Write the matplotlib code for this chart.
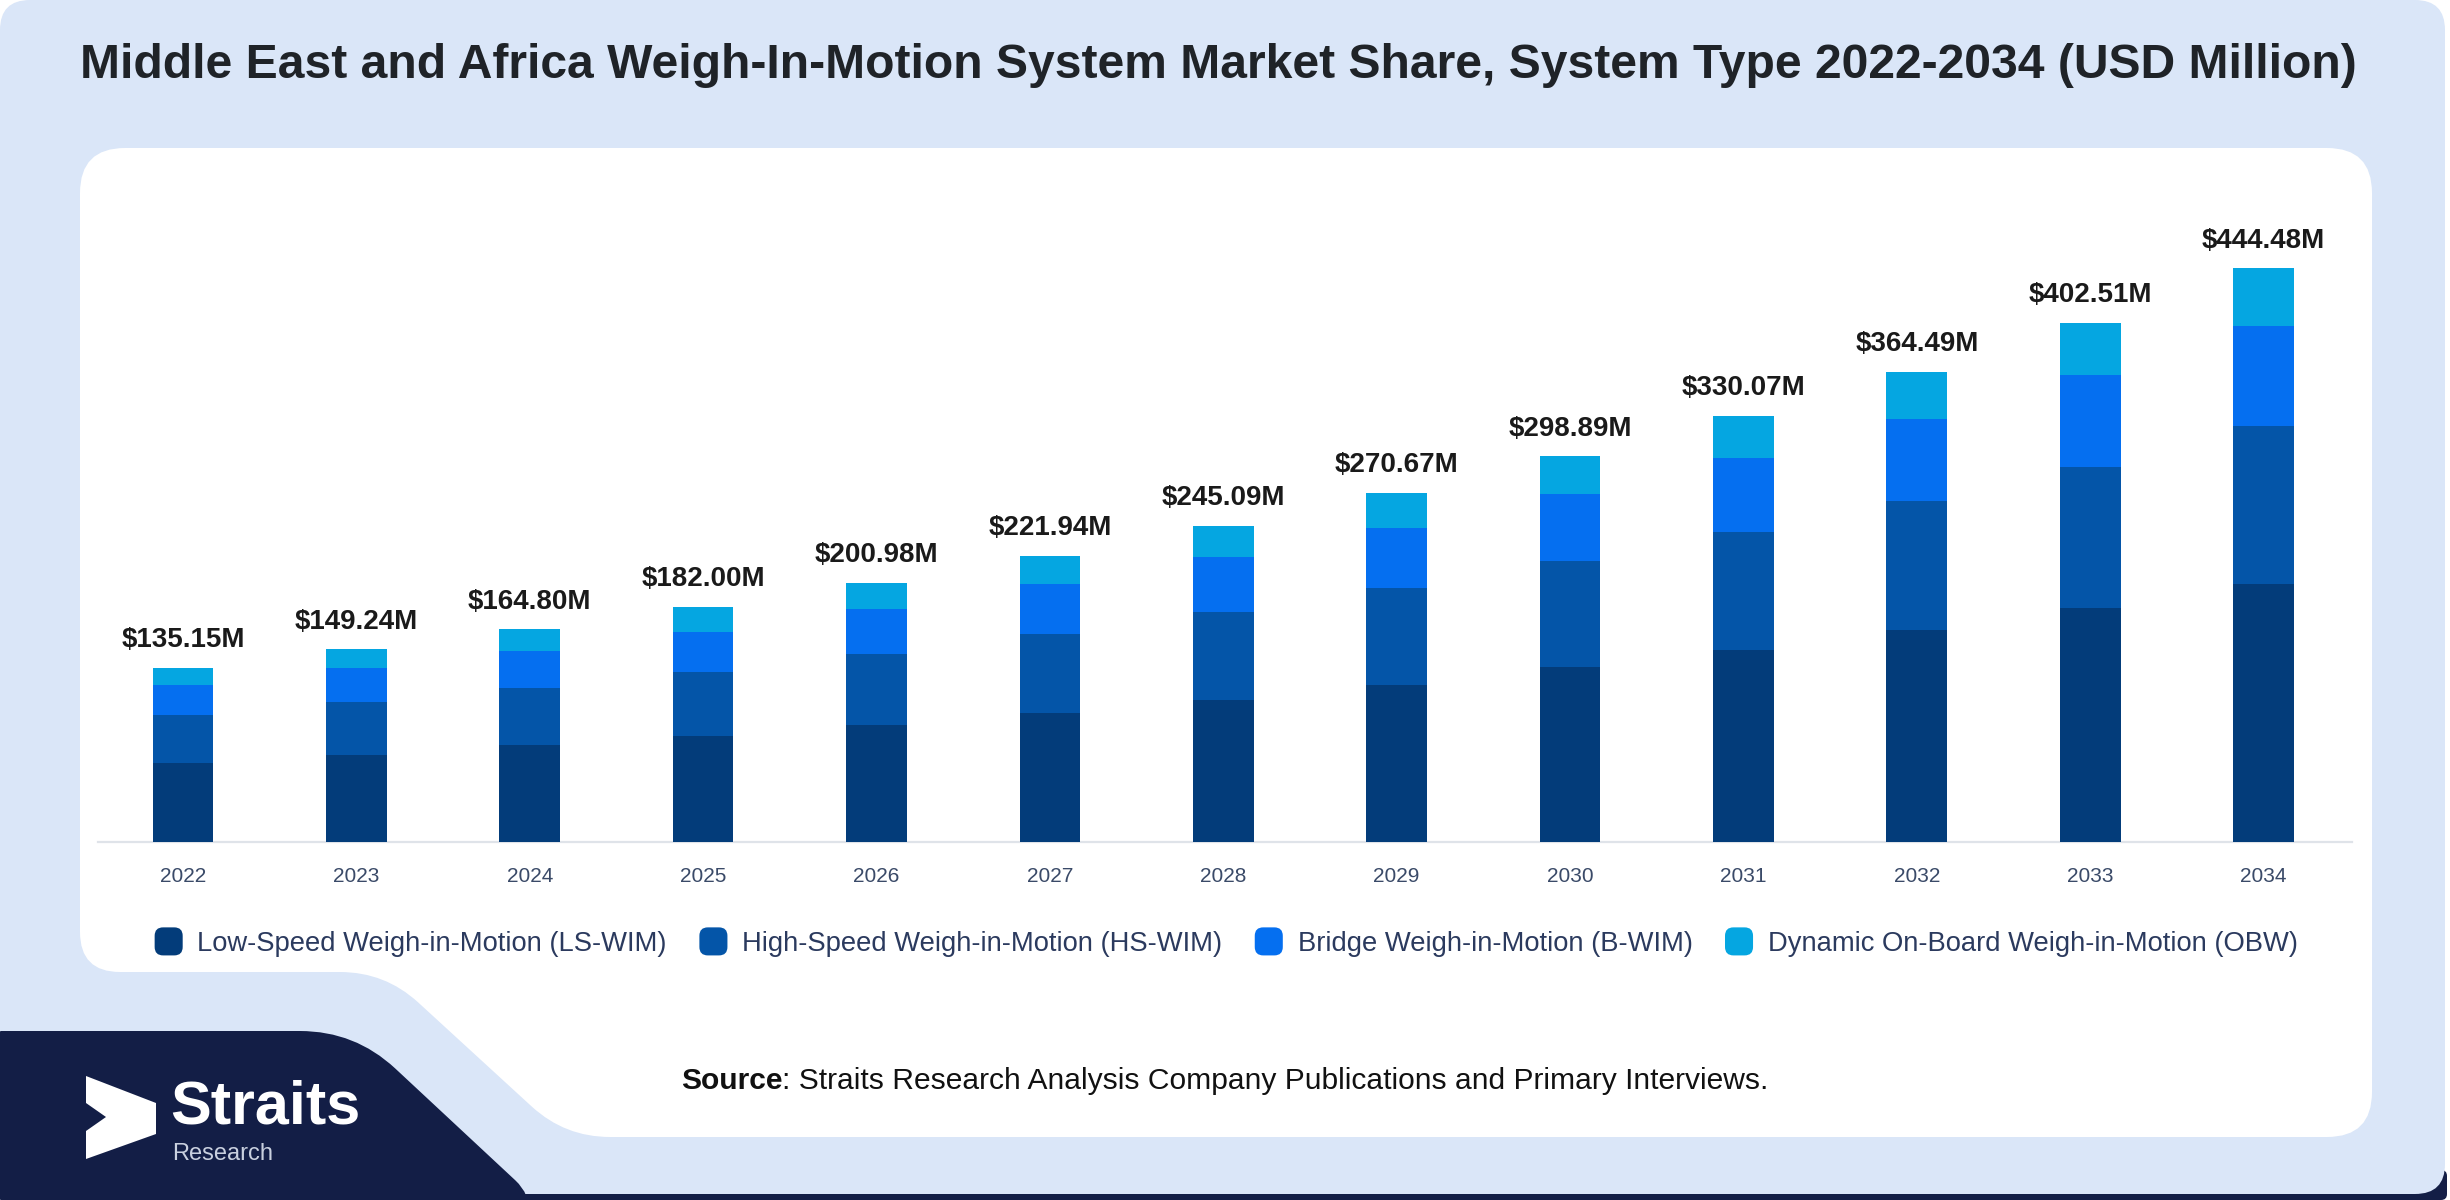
import numpy as np
import matplotlib
matplotlib.use("Agg")
import matplotlib.pyplot as plt
from matplotlib.path import Path
from matplotlib.patches import PathPatch, FancyBboxPatch, Polygon, Patch
from matplotlib.legend_handler import HandlerBase

plt.rcParams['font.family'] = ['Liberation Sans', 'DejaVu Sans']

# ---------------- data ----------------
years = ["2022", "2023", "2024", "2025", "2026", "2027", "2028",
         "2029", "2030", "2031", "2032", "2033", "2034"]
totals = [135.15, 149.24, 164.80, 182.00, 200.98, 221.94, 245.09,
          270.67, 298.89, 330.07, 364.49, 402.51, 444.48]
ls_wim = [61.5, 67.8, 74.8, 82.4, 90.9, 99.6, 110.4, 122.0, 135.3, 149.1, 164.4, 181.5, 200.2]
hs_wim = [36.7, 40.9, 44.6, 49.7, 55.0, 61.8, 67.5, 74.5, 82.1, 90.8, 100.1, 109.5, 122.1]
b_wim = [23.8, 25.9, 28.9, 30.9, 34.6, 38.5, 42.9, 47.0, 52.5, 58.0, 63.7, 71.0, 77.8]
obw = [13.2, 14.7, 16.5, 19.0, 20.4, 22.0, 24.3, 27.1, 29.0, 32.2, 36.4, 40.5, 44.4]
series_names = ["Low-Speed Weigh-in-Motion (LS-WIM)",
                "High-Speed Weigh-in-Motion (HS-WIM)",
                "Bridge Weigh-in-Motion (B-WIM)",
                "Dynamic On-Board Weigh-in-Motion (OBW)"]
colors = ["#033c7a", "#0455a8", "#056ff0", "#05a6e1"]

title = "Middle East and Africa Weigh-In-Motion System Market Share, System Type 2022-2034 (USD Million)"

W, H = 2450, 1200
fig = plt.figure(figsize=(W / 100, H / 100), dpi=100)
fig.patch.set_facecolor("white")

# background axes in pixel coordinates
bg = fig.add_axes([0, 0, 1, 1], zorder=0)
bg.set_xlim(0, W)
bg.set_ylim(H, 0)
bg.axis("off")

LIGHT = "#dae6f8"
NAVY = "#131e46"


def rounded_poly(pts, radii):
    pts = [np.array(p, float) for p in pts]
    n = len(pts)
    verts, codes = [], []
    for i in range(n):
        p0, p1, p2 = pts[i - 1], pts[i], pts[(i + 1) % n]
        r = radii[i]
        d0 = (p0 - p1) / np.linalg.norm(p0 - p1)
        d2 = (p2 - p1) / np.linalg.norm(p2 - p1)
        a = p1 + d0 * r
        b = p1 + d2 * r
        if i == 0:
            verts.append(a); codes.append(Path.MOVETO)
        else:
            verts.append(a); codes.append(Path.LINETO)
        verts.append(p1); codes.append(Path.CURVE3)
        verts.append(b); codes.append(Path.CURVE3)
    verts.append(verts[0]); codes.append(Path.CLOSEPOLY)
    return Path(verts, codes)


# bottom navy strip + light blue frame
bg.add_patch(FancyBboxPatch((0, 1170), W - 3, 30, boxstyle="round,pad=0,rounding_size=6",
                            fc=NAVY, ec="none"))
bg.add_patch(FancyBboxPatch((0, 0), W - 5, 1194, boxstyle="round,pad=0,rounding_size=30",
                            fc=LIGHT, ec="none"))

# navy logo block
navy_pts = [(0, 1031), (355, 1031), (530, 1194), (530, 1200), (0, 1200)]
bg.add_patch(PathPatch(rounded_poly(navy_pts, [1, 55, 20, 1, 1]), fc=NAVY, ec="none"))

# white card
card_pts = [(80, 148), (2372, 148), (2372, 1137), (565, 1137), (385, 972), (80, 972)]
bg.add_patch(PathPatch(rounded_poly(card_pts, [45, 45, 45, 45, 45, 40]), fc="white", ec="none"))

# logo arrow
arrow = [(86, 1076), (156, 1103), (156, 1134), (86, 1159), (86, 1131), (106, 1117), (86, 1103)]
bg.add_patch(Polygon(arrow, closed=True, fc="white", ec="none"))
bg.text(170, 1124, "Straits", color="white", fontsize=44, fontweight="bold", va="baseline", ha="left")
bg.text(172, 1160, "Research", color="#c9d0df", fontsize=17, va="baseline", ha="left")

# title
bg.text(80, 78, title, fontsize=34.6, fontweight="bold", color="#1f2328", va="baseline", ha="left")

# source
t1 = bg.text(681, 1089, "Source", fontsize=21.6, fontweight="bold", color="#111111", va="baseline", ha="left")
bg.annotate(": Straits Research Analysis Company Publications and Primary Interviews.",
            xy=(1, 0), xycoords=t1, xytext=(0, 0), textcoords="offset points",
            fontsize=21.6, color="#111111", va="bottom", ha="left")

# ---------------- chart ----------------
base_px, top_px = 842, 200
left_px, right_px = 98, 2352
ax = fig.add_axes([left_px / W, 1 - base_px / H, (right_px - left_px) / W, (base_px - top_px) / H], zorder=2)
ax.patch.set_alpha(0)
px_per_unit = 573.5 / 444.48
ax.set_ylim(0, (base_px - top_px) / px_per_unit)
ax.set_xlim(-0.49, 12.51)

x = np.arange(len(years))
bottom = np.zeros(len(years))
for vals, c in zip([ls_wim, hs_wim, b_wim, obw], colors):
    ax.bar(x, vals, width=0.35, bottom=bottom, color=c, edgecolor="none", zorder=3)
    bottom += np.array(vals)

for i, t in enumerate(totals):
    ax.annotate(f"${t:.2f}M", xy=(i, bottom[i]), xytext=(0, 15), textcoords="offset points",
                ha="center", va="baseline", fontsize=20, fontweight="bold", color="#1a1a1a")

for s in ["top", "right", "left"]:
    ax.spines[s].set_visible(False)
ax.spines["bottom"].set_color("#dfe3e9")
ax.spines["bottom"].set_linewidth(1.6)
ax.set_yticks([])
ax.set_xticks(x)
ax.set_xticklabels(years, fontsize=15, color="#3a4a68")
ax.tick_params(axis="x", length=0, pad=18)


class RoundSquare(HandlerBase):
    def create_artists(self, legend, orig_handle, xdescent, ydescent, width, height, fontsize, trans):
        s = min(width, height)
        x0 = -xdescent + (width - s) / 2
        y0 = -ydescent + (height - s) / 2
        p = FancyBboxPatch((x0, y0), s, s, boxstyle=f"round,pad=0,rounding_size={s*0.3}",
                           fc=orig_handle.get_facecolor(), ec="none", transform=trans)
        return [p]


handles = [Patch(facecolor=c) for c in colors]
leg = fig.legend(handles, series_names, loc="center", bbox_to_anchor=(1225 / W, 1 - 942 / H),
                 ncol=4, frameon=False, fontsize=19.7, handlelength=1.2, handleheight=1.2,
                 handletextpad=0.45, columnspacing=1.1,
                 handler_map={Patch: RoundSquare()})
for t in leg.get_texts():
    t.set_color("#2b3a5e")

fig.savefig("out.png", dpi=100, facecolor=fig.get_facecolor())
